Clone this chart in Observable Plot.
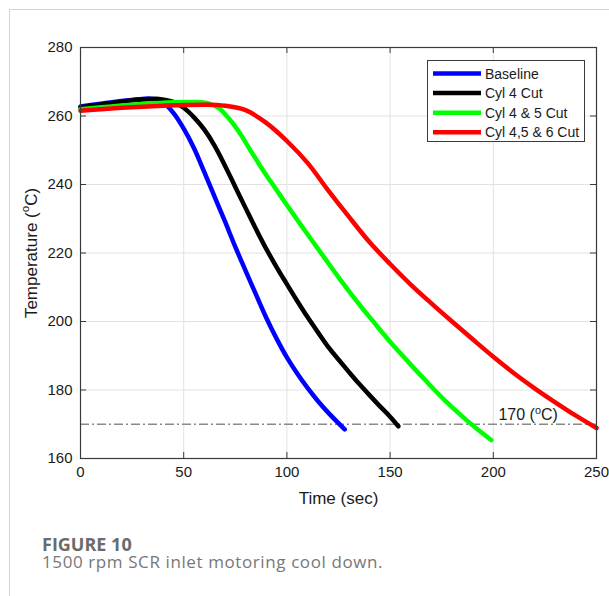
<!DOCTYPE html>
<html>
<head>
<meta charset="utf-8">
<script src="https://cdn.jsdelivr.net/npm/d3@7"></script>
<script src="https://cdn.jsdelivr.net/npm/@observablehq/plot@0.6"></script>
<style>
  html, body { margin: 0; padding: 0; background: #fff; }
  #page { position: relative; width: 609px; height: 596px; overflow: hidden; background: #fff; }
  #edge { position: absolute; left: 9px; top: 9px; width: 640px; height: 640px;
          border-top: 1px solid #d4d4d4; border-left: 1px solid #d4d4d4; }
  #chart { position: absolute; left: 0; top: 0; }
  #legend { position: absolute; left: 427px; top: 60px; }
  .cap { position: absolute; left: 42px; font-family: "Open Sans", sans-serif; white-space: nowrap; }
  #capTitle { top: 536px; font-size: 18px; line-height: 16px; font-weight: 700; color: #6b6b6b; }
  #capText { top: 555px; font-size: 17px; line-height: 14px; letter-spacing: 0.6px; color: #777; }
</style>
</head>
<body>
<div id="page">
  <div id="edge"></div>
  <div id="chart"></div>
  <div id="legend"></div>
  <div class="cap" id="capTitle">FIGURE 10</div>
  <div class="cap" id="capText">1500 rpm SCR inlet motoring cool down.</div>
</div>
<script>
// Exhaust temperature at the SCR inlet while motoring at 1500 rpm
const seriesNames  = ["Baseline", "Cyl 4 Cut", "Cyl 4 & 5 Cut", "Cyl 4,5 & 6 Cut"];
const seriesColors = ["#0000ff", "#000000", "#00ff00", "#ff0000"];

const baselineTime = [0, 10, 20, 30, 35, 40, 45, 50, 55, 60, 65, 70, 75, 80, 85, 90, 95, 100, 105, 110, 115, 120, 128];
const baselineTemp = [262.8, 263.6, 264.4, 265.0, 265.0, 264.0, 260.9, 256.3, 250.6, 243.6, 236.4, 229.2, 221.8, 214.8, 207.9, 201.1, 195.0, 189.5, 184.8, 180.6, 176.8, 173.4, 168.5];

const cyl4Time = [0, 10, 20, 30, 38, 45, 50, 55, 60, 65, 70, 75, 80, 85, 90, 95, 100, 105, 110, 115, 120, 125, 130, 135, 140, 145, 150, 154];
const cyl4Temp = [262.5, 263.4, 264.2, 264.8, 265.0, 264.1, 262.4, 259.6, 256.0, 251.3, 245.5, 239.3, 233.1, 227.0, 221.2, 215.9, 210.9, 206.0, 201.3, 196.9, 192.6, 188.9, 185.3, 181.8, 178.5, 175.3, 172.2, 169.4];

const cyl45Time = [0, 15, 30, 45, 55, 62, 67, 72, 77, 82, 87, 92, 97, 102, 107, 112, 117, 122, 127, 132, 137, 142, 147, 152, 157, 162, 167, 172, 177, 182, 187, 192, 199];
const cyl45Temp = [262.0, 262.8, 263.5, 264.0, 264.1, 263.7, 262.3, 259.2, 255.2, 250.3, 245.5, 241.0, 236.6, 232.3, 228.0, 223.8, 219.6, 215.4, 211.3, 207.3, 203.5, 199.9, 196.2, 192.7, 189.4, 186.1, 182.9, 179.7, 176.7, 173.9, 171.2, 168.7, 165.4];

const cyl456Time = [0, 20, 40, 60, 70, 80, 90, 100, 110, 120, 130, 140, 150, 160, 170, 180, 190, 200, 210, 220, 230, 240, 250];
const cyl456Temp = [261.5, 262.4, 263.0, 263.3, 263.0, 261.7, 258.0, 252.7, 246.3, 238.3, 230.6, 223.2, 216.8, 210.8, 205.3, 200.0, 194.8, 189.7, 184.9, 180.5, 176.4, 172.5, 168.9];

const xTicks = [0, 50, 100, 150, 200, 250];
const yTicks = [160, 180, 200, 220, 240, 260, 280];
const thresholdTemp = 170;
const thresholdLabel = "170 (°C)";

// long-format table for the line mark
const seriesTimes = [baselineTime, cyl4Time, cyl45Time, cyl456Time];
const seriesTemps = [baselineTemp, cyl4Temp, cyl45Temp, cyl456Temp];
const rows = seriesNames.flatMap((name, k) =>
  seriesTimes[k].map((t, i) => ({series: name, time: t, temp: seriesTemps[k][i]})));

const W = 609, H = 510, mL = 80, mR = 13, mT = 47, mB = 52;
const innerW = W - mL - mR, innerH = H - mT - mB, tickLen = 6;

const chart = Plot.plot({
  width: W, height: H,
  marginLeft: mL, marginRight: mR, marginTop: mT, marginBottom: mB,
  style: {fontFamily: "'Liberation Sans', Arial, sans-serif", fontSize: "15px", color: "#1a1a1a", background: "transparent"},
  x: {domain: [0, 250]},
  y: {domain: [160, 280]},
  color: {domain: seriesNames, range: seriesColors},
  marks: [
    Plot.gridX(xTicks, {stroke: "#e2e2e2", strokeOpacity: 1}),
    Plot.gridY(yTicks, {stroke: "#e2e2e2", strokeOpacity: 1}),
    Plot.ruleY([thresholdTemp], {stroke: "#8a8a8a", strokeWidth: 1.3, strokeDasharray: "9,3,2,3"}),
    Plot.line(rows, {x: "time", y: "temp", z: "series", stroke: "series", strokeWidth: 4.5, curve: "catmull-rom"}),
    Plot.text([thresholdLabel], {x: 202.5, y: thresholdTemp, text: d => d, textAnchor: "start",
      lineAnchor: "bottom", dy: -4, fontSize: 16, fill: "#1a1a1a"}),
    Plot.frame({stroke: "#3a3a3a", strokeWidth: 1.2}),
    // inward ticks on all four sides
    Plot.tickX(xTicks, {x: d => d, insetTop: innerH - tickLen, stroke: "#3a3a3a"}),
    Plot.tickX(xTicks, {x: d => d, insetBottom: innerH - tickLen, stroke: "#3a3a3a"}),
    Plot.tickY(yTicks, {y: d => d, insetRight: innerW - tickLen, stroke: "#3a3a3a"}),
    Plot.tickY(yTicks, {y: d => d, insetLeft: innerW - tickLen, stroke: "#3a3a3a"}),
    Plot.axisX({ticks: xTicks, tickSize: 0, tickPadding: 8, label: "Time (sec)", labelAnchor: "center",
      labelArrow: "none", labelOffset: 45, fontSize: 15}),
    Plot.axisY({ticks: yTicks, tickSize: 0, tickPadding: 8, label: "Temperature (°C)", labelAnchor: "center",
      labelArrow: "none", labelOffset: 56, fontSize: 15})
  ]
});
document.getElementById("chart").appendChild(chart);

// enlarge axis titles
d3.select(chart).selectAll("g[aria-label='x-axis label'] text, g[aria-label='y-axis label'] text")
  .style("font-size", "17px");

// render the "o" of °C as a raised small letter
d3.select(chart).selectAll("text, tspan").each(function () {
  if (this.querySelector("tspan")) return;
  const s = this.textContent;
  const i = s.indexOf("°");
  if (i < 0) return;
  const fs = parseFloat(getComputedStyle(this).fontSize) || 15;
  const shift = fs * 0.42;
  this.textContent = "";
  const ns = "http://www.w3.org/2000/svg";
  const a = document.createElementNS(ns, "tspan"); a.textContent = s.slice(0, i);
  const o = document.createElementNS(ns, "tspan"); o.textContent = "o";
  o.setAttribute("dy", -shift); o.setAttribute("font-size", fs * 0.68);
  const b = document.createElementNS(ns, "tspan"); b.textContent = s.slice(i + 1);
  b.setAttribute("dy", shift);
  this.append(a, o, b);
});

// legend box
const lg = d3.select("#legend").append("svg").attr("width", 159).attr("height", 83);
lg.append("rect").attr("x", 0.5).attr("y", 0.5).attr("width", 157).attr("height", 81)
  .attr("fill", "#fff").attr("stroke", "#3a3a3a");
seriesNames.forEach((name, k) => {
  const yy = 13.5 + k * 19.6;
  lg.append("line").attr("x1", 6).attr("x2", 54).attr("y1", yy).attr("y2", yy)
    .attr("stroke", seriesColors[k]).attr("stroke-width", 4.5);
  lg.append("text").attr("x", 58).attr("y", yy).attr("dy", "0.36em")
    .attr("font-family", "'Liberation Sans', Arial, sans-serif").attr("font-size", 14)
    .attr("fill", "#1a1a1a").text(name);
});
</script>
</body>
</html>
